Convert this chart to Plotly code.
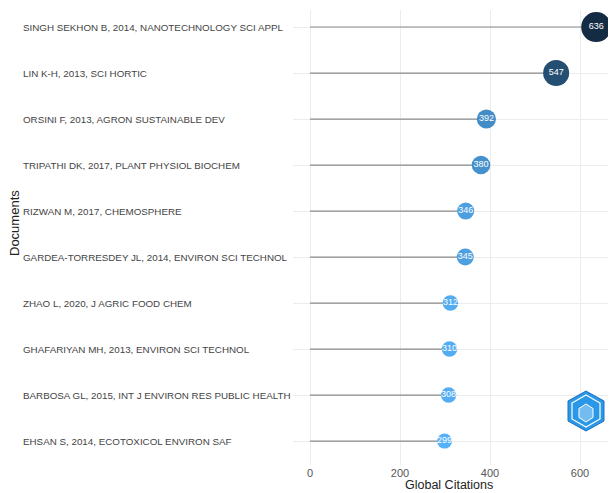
import plotly.graph_objects as go

# data, top row first
docs = [
    "SINGH SEKHON B, 2014, NANOTECHNOLOGY SCI APPL",
    "LIN K-H, 2013, SCI HORTIC",
    "ORSINI F, 2013, AGRON SUSTAINABLE DEV",
    "TRIPATHI DK, 2017, PLANT PHYSIOL BIOCHEM",
    "RIZWAN M, 2017, CHEMOSPHERE",
    "GARDEA-TORRESDEY JL, 2014, ENVIRON SCI TECHNOL",
    "ZHAO L, 2020, J AGRIC FOOD CHEM",
    "GHAFARIYAN MH, 2013, ENVIRON SCI TECHNOL",
    "BARBOSA GL, 2015, INT J ENVIRON RES PUBLIC HEALTH",
    "EHSAN S, 2014, ECOTOXICOL ENVIRON SAF",
]
citations = [636, 547, 392, 380, 346, 345, 312, 310, 308, 299]
x_ticks = [0, 200, 400, 600]

# page is 616x493, body margin shifts the figure by 8px
OFF = 8
W, H = 616 - OFF, 493 - OFF
PL, PT, PB = 293, 10, 465          # plot area edges in page pixels
PW, PH = 616 - PL, PB - PT


def px(x, y):
    # page pixel -> paper coords
    return (x - PL) / PW, (PB - y) / PH


font = "Liberation Sans, Arial, sans-serif"
vmin, vmax = min(citations), max(citations)
sizes = [15 + (v - vmin) / (vmax - vmin) * 15 for v in citations]

# stems
sx, sy = [], []
for d, v in zip(docs, citations):
    sx += [0, v, None]
    sy += [d, d, None]

fig = go.Figure()
fig.add_trace(go.Scatter(
    x=sx, y=sy, mode="lines",
    line=dict(color="#8a8a8a", width=1.2),
    hoverinfo="skip", showlegend=False
))
fig.add_trace(go.Scatter(
    x=citations, y=docs, mode="markers+text",
    text=[str(v) for v in citations],
    textposition="middle center",
    textfont=dict(color="white", size=9, family=font),
    marker=dict(
        size=sizes, color=citations, cmin=vmin, cmax=vmax,
        colorscale=[[0, "#56B1F7"], [1, "#132B43"]],
        opacity=1, line=dict(width=0)
    ),
    showlegend=False
))

annotations = []
for d in docs:
    annotations.append(dict(
        x=px(21, 0)[0], xref="paper", y=d, yref="y",
        text=d, showarrow=False, xanchor="left", yanchor="middle",
        font=dict(size=9.8, color="#444444", family=font)
    ))
annotations.append(dict(
    x=px(14, 0)[0], y=px(0, 223)[1], xref="paper", yref="paper",
    text="Documents", textangle=-90, showarrow=False,
    xanchor="center", yanchor="middle",
    font=dict(size=13, color="#222222", family=font)
))
annotations.append(dict(
    x=px(449, 0)[0], y=px(0, 494)[1], xref="paper", yref="paper",
    text="Global Citations", showarrow=False, xanchor="center", yanchor="bottom",
    font=dict(size=12.5, color="#222222", family=font)
))

# bibliometrix logo (hexagon)
def hexpath(cx, cy, rx, ry):
    pts = [(cx, cy - ry), (cx + rx, cy - ry / 2), (cx + rx, cy + ry / 2),
           (cx, cy + ry), (cx - rx, cy + ry / 2), (cx - rx, cy - ry / 2)]
    pts = [px(a, b) for a, b in pts]
    return "M " + " L ".join(f"{a:.4f},{b:.4f}" for a, b in pts) + " Z"

shapes = [
    dict(type="path", path=hexpath(586, 411, 18, 20), xref="paper", yref="paper",
         fillcolor="#2a98e6", line=dict(color="#1c6fc4", width=1)),
    dict(type="path", path=hexpath(586, 411, 14, 16), xref="paper", yref="paper",
         fillcolor="rgba(0,0,0,0)", line=dict(color="white", width=1.2)),
    dict(type="path", path=hexpath(586, 413, 7, 9), xref="paper", yref="paper",
         fillcolor="rgba(255,255,255,0.35)", line=dict(color="white", width=1)),
]

fig.update_layout(
    width=W, height=H,
    margin=dict(l=PL - OFF, r=0, t=PT - OFF, b=H + OFF - PB),
    plot_bgcolor="white", paper_bgcolor="white",
    font=dict(family=font),
    annotations=annotations,
    shapes=shapes,
    xaxis=dict(
        range=[(PL - 310) / 0.45, (616 - 310) / 0.45],
        tickvals=x_ticks, showgrid=True, gridcolor="#ececec", gridwidth=1,
        zeroline=False, showline=False, ticks="",
        tickfont=dict(size=11, color="#555555", family=font),
    ),
    yaxis=dict(
        type="category", categoryorder="array", categoryarray=docs[::-1],
        range=[-0.52, 9.37], showticklabels=False,
        showgrid=True, gridcolor="#ececec", gridwidth=1,
        zeroline=False, showline=False, ticks="",
    ),
)

fig.write_html("out.html")
